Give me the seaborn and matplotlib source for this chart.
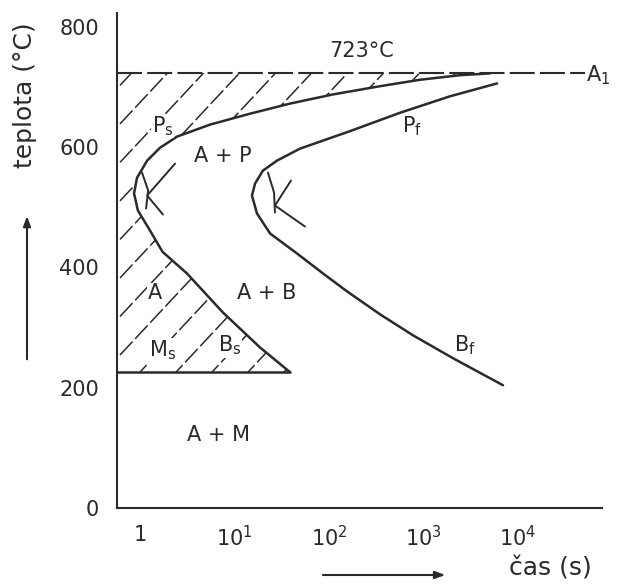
import numpy as np
import matplotlib
matplotlib.use("Agg")
import matplotlib.pyplot as plt
from matplotlib.patches import Polygon, FancyArrowPatch
import pandas as pd
import seaborn as sns

# Isothermal transformation (TTT) diagram of a eutectoid steel
# start of transformation (Ps -> Bs), time in s, temperature in degC
start_time = [5055, 2430, 919, 347, 110, 38.7, 14.6, 5.5, 2.47, 1.63, 1.19,
              0.93, 0.865, 0.95, 1.28, 1.73, 3.14, 7.55, 18.6, 38.6]
start_temp = [722.6, 719.6, 712, 701.3, 687.6, 672.4, 655.6, 637.4, 617.5,
              599, 577.6, 549, 523, 494.6, 461, 426, 390, 325, 267, 226]

# end of transformation (Pf -> Bf)
finish_time = [5998, 1906, 564, 167, 49.3, 28.2, 20.0, 16.5, 15.3, 17.3,
               23.8, 45.8, 86.4, 155, 347, 774, 2052, 6934]
finish_temp = [705.9, 684.5, 657.1, 626.6, 597.5, 577.6, 561, 539.4, 519.5,
               489.6, 456.4, 423.2, 390, 360.2, 322, 287.1, 249, 204.1]

# small marks at the two noses
nose1_arc_time = [2.35, 1.19, 1.75]
nose1_arc_temp = [572.6, 519.5, 488]
nose1_bar_time = [1.05, 1.22, 1.16]
nose1_bar_temp = [557.7, 527.8, 498]
nose2_arc_time = [39.6, 26.8, 55.7]
nose2_arc_temp = [544.4, 502.9, 468]
nose2_bar_time = [22.6, 26.2, 26.8]
nose2_bar_temp = [557.7, 524.5, 491.3]

A1_temp = 723
A1_end_time = 51000
Ms_temp = 226

x_ticks = [1, 10, 100, 1000, 10000]
x_ticklabels = ["1", "$10^{1}$", "$10^{2}$", "$10^{3}$", "$10^{4}$"]
y_ticks = [0, 200, 400, 600, 800]
y_minor = [100, 300, 500, 700]
x_lim = (0.571, 77400)
y_lim = (0, 823)

sns.set_style("white")
plt.rcParams["font.family"] = ["DejaVu Sans"]
plt.rcParams["mathtext.fontset"] = "dejavusans"

ink = "#2a2a2a"
fig = plt.figure(figsize=(6.18, 5.84), dpi=100)
ax = fig.add_axes([117 / 618, 76 / 584, 485 / 618, 495 / 584])
ax.set_xscale("log")
ax.set_xlim(*x_lim)
ax.set_ylim(*y_lim)

start_df = pd.DataFrame({"t": start_time, "T": start_temp})
finish_df = pd.DataFrame({"t": finish_time, "T": finish_temp})
sns.lineplot(data=start_df, x="t", y="T", sort=False, estimator=None,
             color=ink, lw=1.8, ax=ax)
sns.lineplot(data=finish_df, x="t", y="T", sort=False, estimator=None,
             color=ink, lw=1.8, ax=ax)

for tx, ty in [(nose1_arc_time, nose1_arc_temp), (nose1_bar_time, nose1_bar_temp),
               (nose2_arc_time, nose2_arc_temp), (nose2_bar_time, nose2_bar_temp)]:
    ax.plot(tx, ty, color=ink, lw=1.4)

# A1 eutectoid line and Ms line
ax.plot([x_lim[0], A1_end_time], [A1_temp, A1_temp], color=ink, lw=1.5,
        dashes=(12, 2.5))
ax.plot([x_lim[0], start_time[-1]], [Ms_temp, Ms_temp], color=ink, lw=1.8)

# hatched austenite region
verts = [(x_lim[0], A1_temp), (start_time[0], A1_temp)]
verts += list(zip(start_time, start_temp))
verts += [(x_lim[0], Ms_temp)]
region = Polygon(verts, closed=True, transform=ax.transData,
                 facecolor="none", edgecolor="none")
ax.add_patch(region)
w_px, h_px = 485.0, 495.0
k = 1.07
spacing = 36.0
c0 = -104.0
for c in np.arange(c0 - spacing * 14, w_px, spacing):
    X = np.array([c, c + h_px / k])
    Y = k * (X - c)
    ln, = ax.plot(X / w_px, Y / h_px, transform=ax.transAxes, color=ink,
                  lw=1.1, dashes=(12, 2.5))
    ln.set_clip_path(region)

# axes styling
for s in ["top", "right"]:
    ax.spines[s].set_visible(False)
for s in ["left", "bottom"]:
    ax.spines[s].set_color(ink)
    ax.spines[s].set_linewidth(1.5)
ax.set_xticks(x_ticks)
ax.set_xticklabels(x_ticklabels)
ax.xaxis.set_minor_locator(matplotlib.ticker.NullLocator())
ax.set_yticks(y_ticks)
ax.set_yticks(y_minor, minor=True)
ax.tick_params(axis="both", which="both", direction="inout", color=ink,
               labelcolor=ink, labelsize=15, width=1.3)
ax.tick_params(axis="y", which="major", length=8, pad=9)
ax.tick_params(axis="y", which="minor", length=7)
ax.tick_params(axis="x", which="major", length=8, pad=8)
ax.set_xlabel("")
ax.set_ylabel("")

fs = 15
white = dict(facecolor="white", edgecolor="none", pad=0.5)
ax.text(1.75, 635, "P$_{\\rm s}$", fontsize=fs, color=ink, ha="center",
        va="center", bbox=white)
ax.text(7.55, 586, "A + P", fontsize=fs, color=ink, ha="center", va="center")
ax.text(1.44, 357, "A", fontsize=fs, color=ink, ha="center", va="center",
        bbox=white)
ax.text(22.1, 357, "A + B", fontsize=fs, color=ink, ha="center", va="center")
ax.text(1.75, 262, "M$_{\\rm s}$", fontsize=fs, color=ink, ha="center",
        va="center", bbox=white)
ax.text(8.96, 270, "B$_{\\rm s}$", fontsize=fs, color=ink, ha="center",
        va="center", bbox=white)
ax.text(6.69, 121, "A + M", fontsize=fs, color=ink, ha="center", va="center")
ax.text(755, 634, "P$_{\\rm f}$", fontsize=fs, color=ink, ha="center",
        va="center")
ax.text(2750, 270, "B$_{\\rm f}$", fontsize=fs, color=ink, ha="center",
        va="center")
ax.text(223, 759, "723°C", fontsize=fs, color=ink, ha="center", va="center")
ax.text(70000, 719, "A$_{\\rm 1}$", fontsize=fs, color=ink, ha="center",
        va="center", clip_on=False)

# axis titles with arrows
fig.text(0.040, 0.837, "teplota (°C)", rotation=90, fontsize=18, color=ink,
         ha="center", va="center")
fig.text(0.890, 0.026, "čas (s)", fontsize=18, color=ink, ha="center",
         va="center")
fig.add_artist(FancyArrowPatch(
    (0.0437, 0.380), (0.0437, 0.635), transform=fig.transFigure,
    arrowstyle="-|>,head_length=6,head_width=2.2", color=ink, lw=1.5))
fig.add_artist(FancyArrowPatch(
    (0.518, 0.0154), (0.725, 0.0154), transform=fig.transFigure,
    arrowstyle="-|>,head_length=6,head_width=2.2", color=ink, lw=1.5))

fig.savefig("out.png", dpi=100, facecolor="white")
